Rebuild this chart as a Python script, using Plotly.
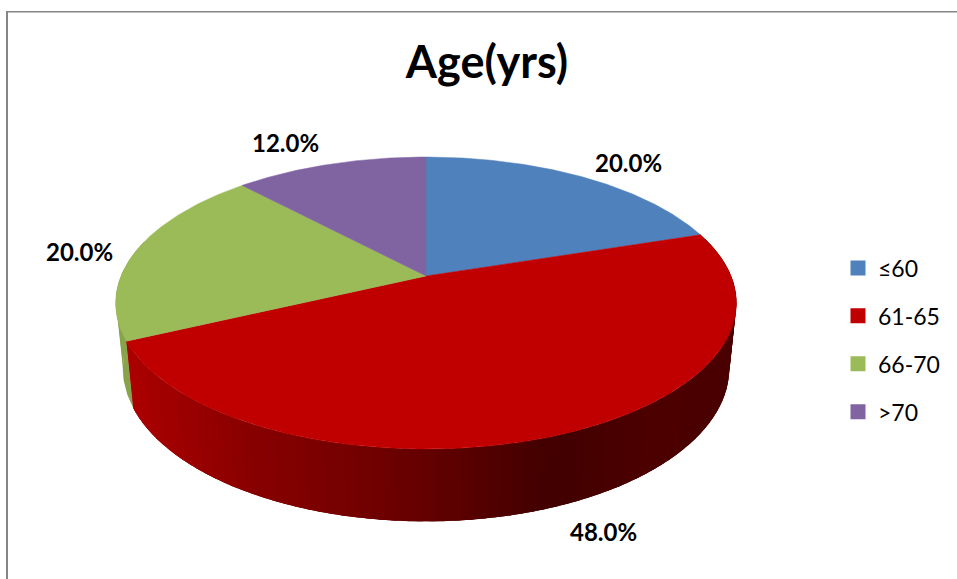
import numpy as np
import plotly.graph_objects as go

# ---- data -------------------------------------------------------------
categories = ["≤60", "61-65", "66-70", ">70"]
shares = [20.0, 48.0, 20.0, 12.0]
title_text = "Age(yrs)"

# ---- styling ----------------------------------------------------------
colors = ["#4F81BD", "#C00000", "#9BBB59", "#8064A2"]
FONT = "Lato, Carlito, Calibri, sans-serif"
W, H = 957, 579
label_anchor = [(628, 162), (603, 531), (79, 251), (285, 142)]

# Perspective view of the pie disc (axes are in canvas units)
CX, CY_TOP, AX_TOP, BY_TOP = 426.0, 276.0, 305.0, 141.0
CY_BOT, AX_BOT, BY_BOT = 340.0, 298.0, 147.8
K = 0.185


def top_rim(t):
    d = 1 + K * np.cos(t)
    return CX + AX_TOP * np.sin(t) / d, CY_TOP - BY_TOP * np.cos(t) / d


def bottom_rim(t):
    d = 1 + K * np.cos(t)
    return CX + AX_BOT * np.sin(t) / d, CY_BOT - BY_BOT * np.cos(t) / d


edges = np.radians(np.cumsum([0.0] + shares) * 3.6)

fig = go.Figure()

# side wall: red slice, then the sliver of the green slice
shade_x = [133, 250, 300, 420, 550, 650, 736]
shade_r = [172, 138, 128, 102, 66, 77, 74]


def wall(t0, t1, step_deg, color_of):
    n = max(2, int(np.degrees(t1 - t0) / step_deg))
    grid = np.linspace(t0, t1, n + 1)
    step = grid[1] - grid[0]
    for a in grid[:-1]:
        # each strip runs on under the next one, so no seams show
        b = min(a + 2.5 * step, t1)
        tt = np.linspace(a, b, 5)
        xt, yt = top_rim(tt)
        xb, yb = bottom_rim(tt[::-1])
        c = color_of(a + step / 2)
        fig.add_trace(go.Scatter(
            x=np.r_[xt, xb], y=np.r_[yt, yb], mode="none", fill="toself",
            fillcolor=c, hoverinfo="skip", showlegend=False))


def red_shade(t):
    x = bottom_rim(t)[0]
    return f"rgb({int(np.interp(x, shade_x, shade_r))},0,0)"


# green sliver is painted first, red wall in front of it
wall(edges[2], edges[2] + np.radians(40), 8, lambda t: "#87A34C")
wall(edges[1], edges[2], 2, red_shade)

# top faces
for i, name in enumerate(categories):
    tt = np.linspace(edges[i], edges[i + 1], max(8, int(shares[i] * 8)))
    xs, ys = top_rim(tt)
    fig.add_trace(go.Scatter(
        x=np.r_[CX, xs, CX], y=np.r_[CY_TOP, ys, CY_TOP], mode="lines",
        fill="toself", fillcolor=colors[i], line=dict(color=colors[i], width=0.5),
        name=name, hoverinfo="name", showlegend=False))

# legend entries
for i, name in enumerate(categories):
    fig.add_trace(go.Scatter(
        x=[None], y=[None], mode="markers", name=name, legendgroup=name,
        marker=dict(symbol="square", size=15, color=colors[i])))

# percentage labels
for share, (lx, ly) in zip(shares, label_anchor):
    fig.add_annotation(x=lx, y=ly, xref="x", yref="y", text=f"<b>{share:.1f}%</b>",
                       showarrow=False, font=dict(family=FONT, size=24, color="#000000"))

# chart-area border (top and left edges visible)
fig.add_shape(type="rect", x0=6, x1=8, y0=11, y1=H, xref="x", yref="y",
              fillcolor="#868686", line_width=0, layer="below")
fig.add_shape(type="rect", x0=6, x1=W, y0=11, y1=12.5, xref="x", yref="y",
              fillcolor="#868686", line_width=0, layer="below")

fig.update_layout(
    width=W, height=H, margin=dict(l=0, r=0, t=0, b=0),
    paper_bgcolor="#FFFFFF", plot_bgcolor="#FFFFFF",
    title=dict(text=f"<b>{title_text}</b>", x=487 / W, y=1 - 62 / H,
               xanchor="center", yanchor="middle",
               font=dict(family=FONT, size=45, color="#000000")),
    xaxis=dict(range=[0, W], visible=False, fixedrange=True),
    yaxis=dict(range=[H, 0], visible=False, fixedrange=True),
    legend=dict(x=845 / W, y=1 - 340 / H, xanchor="left", yanchor="middle",
                font=dict(family=FONT, size=23, color="#000000"), indentation=-7,
                tracegroupgap=15, bgcolor="rgba(0,0,0,0)", traceorder="grouped"),
    showlegend=True,
)

fig.write_html("out.html", config={"displayModeBar": False},
               post_script="document.body.style.margin='0';")
